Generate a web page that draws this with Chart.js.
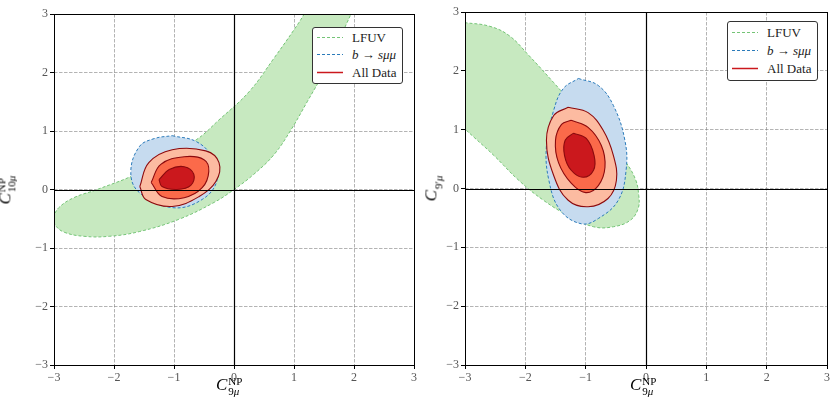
<!DOCTYPE html>
<html>
<head>
<meta charset="utf-8">
<script src="https://cdn.jsdelivr.net/npm/chart.js@4.4.0/dist/chart.umd.min.js"></script>
<style>
body { margin: 0; width: 832px; height: 402px; background: #fff; position: relative; overflow: hidden; font-family: "Liberation Serif", "DejaVu Serif", serif; }
canvas { position: absolute; top: 0; }
.lab { position: absolute; white-space: nowrap; color: #000; font-size: 17px; line-height: 17px; }
.lab i { font-style: italic; }
.st { display: inline-block; vertical-align: middle; font-size: 11px; line-height: 10px; margin-left: 1px; }
.st span { display: block; }
.legend { position: absolute; background: #fff; border: 1px solid #333; border-radius: 3px; font-size: 13px; color: #222; }
.legend .row { position: absolute; left: 0; height: 15px; line-height: 15px; white-space: nowrap; }
.legend svg { position: absolute; left: 4px; top: 3px; }
.legend .tx { position: absolute; left: 39px; top: 0; }
</style>
</head>
<body>
<canvas id="left" width="420" height="402" style="left:0"></canvas>
<canvas id="right" width="412" height="402" style="left:420px"></canvas>

<div class="lab" style="left:216px;top:376px"><i>C</i><span class="st"><span>NP</span><span>9<i>μ</i></span></span></div>
<div class="lab" style="left:630px;top:376px"><i>C</i><span class="st"><span>NP</span><span>9<i>μ</i></span></span></div>
<div class="lab" style="left:-8px;top:180px;transform:rotate(-90deg)"><i>C</i><span class="st"><span>NP</span><span>10<i>μ</i></span></span></div>
<div class="lab" style="left:420px;top:178px;transform:rotate(-90deg)"><i>C</i><span class="st" style="vertical-align:-6px"><span>9′<i>μ</i></span></span></div>

<div class="legend" style="left:312px;top:27px;width:89px;height:55px">
  <div class="row" style="top:2px"><svg width="26" height="9"><line x1="0" y1="4.5" x2="26" y2="4.5" stroke="#74c476" stroke-width="1" stroke-dasharray="3,2"/></svg><div class="tx">LFUV</div></div>
  <div class="row" style="top:19px"><svg width="26" height="9"><line x1="0" y1="4.5" x2="26" y2="4.5" stroke="#2b7bba" stroke-width="1" stroke-dasharray="3,2"/></svg><div class="tx"><i>b</i> → <i>sμμ</i></div></div>
  <div class="row" style="top:37px"><svg width="26" height="9"><line x1="0" y1="4.5" x2="26" y2="4.5" stroke="#cb181d" stroke-width="1.5"/></svg><div class="tx">All Data</div></div>
</div>
<div class="legend" style="left:727px;top:21px;width:89px;height:58px">
  <div class="row" style="top:3px"><svg width="26" height="9"><line x1="0" y1="4.5" x2="26" y2="4.5" stroke="#74c476" stroke-width="1" stroke-dasharray="3,2"/></svg><div class="tx">LFUV</div></div>
  <div class="row" style="top:21px"><svg width="26" height="9"><line x1="0" y1="4.5" x2="26" y2="4.5" stroke="#2b7bba" stroke-width="1" stroke-dasharray="3,2"/></svg><div class="tx"><i>b</i> → <i>sμμ</i></div></div>
  <div class="row" style="top:39px"><svg width="26" height="9"><line x1="0" y1="4.5" x2="26" y2="4.5" stroke="#cb181d" stroke-width="1.5"/></svg><div class="tx">All Data</div></div>
</div>

<script>
// axis ticks (both panels)
const tickValues = [-3, -2, -1, 0, 1, 2, 3];

// left panel: C9 vs C10, contour outlines
const lfuvLeft = [[-3.02, -0.48], [-2.92, -0.31], [-2.67, -0.14], [-2.28, 0.0], [-1.58, 0.29], [-0.63, 0.85],
  [-0.25, 1.19], [0.25, 1.67], [0.67, 2.25], [1.0, 2.73], [1.17, 3.0], [1.38, 3.41], [2.12, 3.41], [1.95, 3.0],
  [1.75, 2.56], [1.5, 2.01], [1.22, 1.5], [0.95, 1.02], [0.67, 0.6], [0.33, 0.26], [0.0, 0.0], [-0.33, -0.22],
  [-0.92, -0.51], [-1.58, -0.72], [-2.08, -0.8], [-2.5, -0.8], [-2.83, -0.73], [-2.98, -0.61]];
const bsmmLeft = [[-1.03, 0.92], [-0.63, 0.82], [-0.37, 0.56], [-0.28, 0.17], [-0.53, -0.17], [-1.03, -0.31],
  [-1.58, -0.05], [-1.72, 0.29], [-1.58, 0.73], [-1.33, 0.87]];
const allOuterLeft = [[-1.57, 0.05], [-1.42, 0.46], [-1.03, 0.68], [-0.47, 0.66], [-0.25, 0.46], [-0.3, 0.14],
  [-0.58, -0.12], [-1.03, -0.29], [-1.47, -0.17]];
const allMidLeft = [[-1.38, 0.12], [-1.22, 0.43], [-0.83, 0.56], [-0.5, 0.51], [-0.42, 0.31], [-0.53, 0.03],
  [-0.83, -0.14], [-1.2, -0.12]];
const allInnerLeft = [[-1.25, 0.17], [-1.08, 0.34], [-0.83, 0.39], [-0.67, 0.26], [-0.72, 0.07], [-0.95, 0.0],
  [-1.2, 0.05]];

// right panel: C9 vs C9'
const lfuvRight = [[-3.01, 2.82], [-2.6, 2.76], [-2.27, 2.6], [-1.94, 2.26], [-1.53, 1.8], [-1.12, 1.33],
  [-0.71, 0.9], [-0.38, 0.51], [-0.18, 0.17], [-0.12, -0.12], [-0.13, -0.34], [-0.26, -0.54], [-0.54, -0.65],
  [-0.87, -0.65], [-1.29, -0.46], [-1.7, -0.2], [-2.11, 0.14], [-2.52, 0.56], [-2.85, 0.87], [-3.01, 1.02],
  [-3.3, 1.3], [-3.3, 2.85]];
const bsmmRight = [[-1.12, 1.87], [-0.79, 1.75], [-0.54, 1.41], [-0.35, 0.82], [-0.33, 0.31], [-0.46, -0.2],
  [-0.79, -0.51], [-1.07, -0.6], [-1.42, -0.37], [-1.61, 0.14], [-1.65, 0.73], [-1.53, 1.33], [-1.37, 1.7]];
const allOuterRight = [[-1.29, 1.38], [-0.96, 1.29], [-0.71, 0.99], [-0.54, 0.56], [-0.49, 0.14], [-0.63, -0.17],
  [-0.96, -0.31], [-1.29, -0.2], [-1.53, 0.22], [-1.65, 0.82], [-1.53, 1.24]];
const allMidRight = [[-1.24, 1.16], [-0.96, 1.04], [-0.74, 0.73], [-0.68, 0.36], [-0.79, 0.05], [-1.0, -0.07],
  [-1.24, 0.09], [-1.45, 0.44], [-1.5, 0.82], [-1.4, 1.09]];
const allInnerRight = [[-1.2, 0.94], [-0.99, 0.85], [-0.86, 0.56], [-0.87, 0.31], [-1.04, 0.19], [-1.24, 0.31],
  [-1.35, 0.56], [-1.34, 0.82]];

function closed(pts) {
  const out = pts.map(p => ({ x: p[0], y: p[1] }));
  out.push({ x: pts[0][0], y: pts[0][1] });
  return out;
}

function contour(pts, fillColor, lineColor, dash, width) {
  return {
    data: closed(pts),
    showLine: true,
    fill: 'shape',
    backgroundColor: fillColor,
    borderColor: lineColor,
    borderWidth: width,
    borderDash: dash,
    tension: 0.4,
    capBezierPoints: false,
    pointRadius: 0,
    pointHoverRadius: 0
  };
}

const minus = v => (v < 0 ? '\u2212' + Math.abs(v) : String(v));

// frame + zero lines on top, like the matplotlib spines/axhline
const framePlugin = {
  id: 'frame',
  afterDraw(chart) {
    const { ctx, chartArea: a, scales } = chart;
    ctx.save();
    ctx.strokeStyle = '#000';
    ctx.lineWidth = 1.2;
    const x0 = Math.round(scales.x.getPixelForValue(0)) + 0.5;
    const y0 = Math.round(scales.y.getPixelForValue(0)) + 0.5;
    ctx.beginPath();
    ctx.moveTo(x0, a.top); ctx.lineTo(x0, a.bottom);
    ctx.moveTo(a.left, y0); ctx.lineTo(a.right, y0);
    ctx.stroke();
    ctx.lineWidth = 1;
    ctx.strokeRect(Math.round(a.left) + 0.5, Math.round(a.top) + 0.5, Math.round(a.width), Math.round(a.height));
    ctx.restore();
  }
};

function scaleOpts(fixed, horizontal) {
  return {
    type: 'linear',
    min: -3,
    max: 3,
    z: 1,
    afterBuildTicks: s => { s.ticks = tickValues.map(v => ({ value: v })); },
    afterFit: s => { if (horizontal) s.height = fixed; else s.width = fixed; },
    ticks: {
      callback: v => minus(v),
      color: '#555',
      font: { family: '"Liberation Serif", serif', size: 12 },
      padding: 2,
      maxRotation: 0
    },
    grid: {
      color: 'rgba(120,120,120,0.7)',
      lineWidth: 0.8,
      drawTicks: true,
      tickLength: 4,
      tickColor: '#000',
      tickWidth: 1,
      tickBorderDash: []
    },
    border: { display: false, dash: [3.5, 1.5] }
  };
}

function makeChart(id, sets, yWidth, pad) {
  const lfuv = contour(sets[0], 'rgba(199,233,192,1)', 'rgba(116,196,118,1)', [3, 2], 1);
  const bsmm = contour(sets[1], 'rgba(198,219,239,1)', 'rgba(43,123,186,1)', [3, 2], 1);
  const outer = contour(sets[2], 'rgba(252,187,161,1)', '#8b0a0e', [], 1.1);
  const mid = contour(sets[3], 'rgba(251,106,74,1)', '#8b0a0e', [], 1.1);
  const inner = contour(sets[4], 'rgba(203,24,29,1)', '#8b0a0e', [], 1.1);
  return new Chart(document.getElementById(id), {
    type: 'scatter',
    data: { datasets: [inner, mid, outer, bsmm, lfuv] },
    options: {
      responsive: false,
      animation: false,
      layout: { padding: pad },
      plugins: { legend: { display: false }, tooltip: { enabled: false } },
      scales: { x: scaleOpts(37, true), y: scaleOpts(yWidth, false) }
    },
    plugins: [framePlugin]
  });
}

makeChart('left', [lfuvLeft, bsmmLeft, allOuterLeft, allMidLeft, allInnerLeft], 54,
  { top: 14, right: 6, left: 0, bottom: 0 });
makeChart('right', [lfuvRight, bsmmRight, allOuterRight, allMidRight, allInnerRight], 45,
  { top: 12, right: 3, left: 0, bottom: 0 });
</script>
</body>
</html>
